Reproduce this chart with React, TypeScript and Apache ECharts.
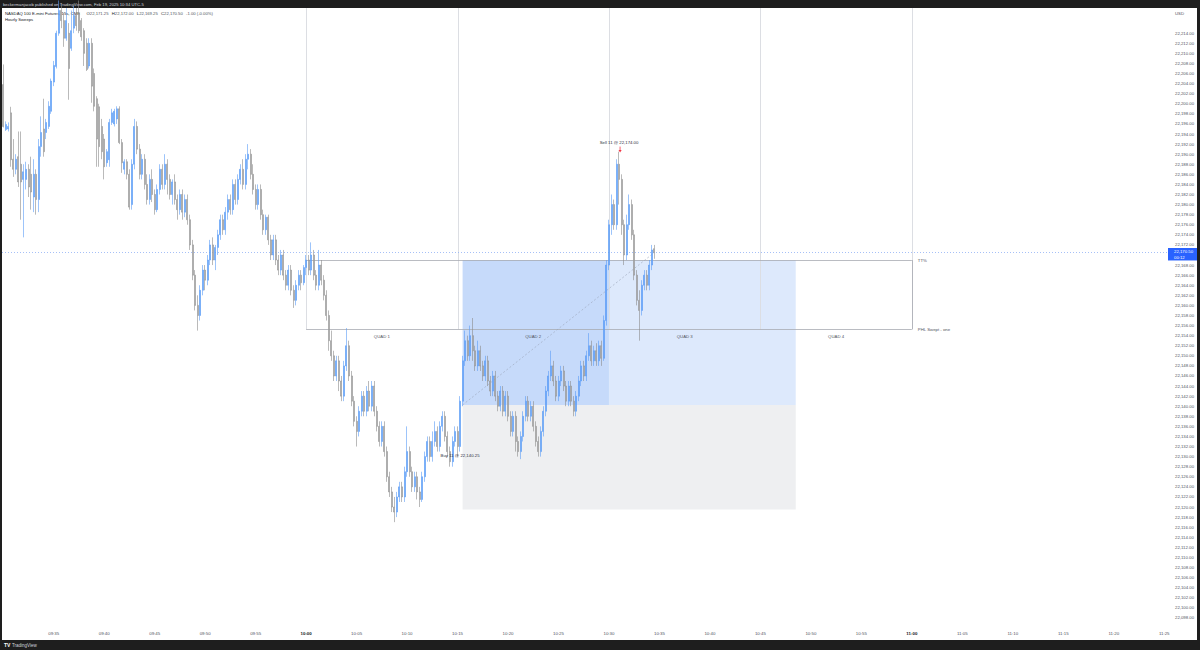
import React, { useEffect, useRef } from "react";
import * as echarts from "echarts";

// ---------- data ----------
const SLOT_SECONDS = 15;
const SESSION_START_MIN = 9 * 60 + 30; // 09:30:00
const SLOT_COUNT = 462; // 09:30:00 .. 11:25:15

// [open, close, low, high] — 15 second candles from 09:30:00
const candles: number[][] = [
  [22203.8, 22195.5, 22195.3, 22207.8], [22194.9, 22195.9, 22194.6, 22196.5], [22195.0, 22195.5, 22194.5, 22196.3],
  [22198.2, 22188.9, 22187.5, 22199.4], [22189, 22187, 22185.5, 22193], [22187, 22189, 22186, 22190],
  [22189.5, 22184.5, 22183.5, 22194.5], [22188, 22184.5, 22177, 22194.5], [22185, 22186.5, 22173.5, 22188],
  [22185, 22187, 22183, 22188.5], [22187, 22183.5, 22181.5, 22188], [22186, 22182.5, 22179, 22189.5],
  [22181.5, 22186, 22178.5, 22189], [22186, 22181, 22178, 22187], [22181, 22191.5, 22178.5, 22193],
  [22191.5, 22194.3, 22189.5, 22197.5], [22195, 22190.5, 22189.5, 22201], [22194.3, 22196.3, 22193, 22197],
  [22195.5, 22199.5, 22195, 22200.5], [22198.5, 22204.5, 22198, 22205], [22204.3, 22207.6, 22203.5, 22208.5],
  [22207.4, 22214, 22207, 22214.5], [22214, 22218.5, 22213.5, 22220.5], [22218.5, 22216.5, 22215, 22220],
  [22216.5, 22213, 22211.3, 22218], [22213, 22216.5, 22212.5, 22219], [22214, 22207, 22200.8, 22216],
  [22211, 22214.5, 22210.5, 22218.5], [22215, 22217.5, 22214, 22219.5], [22217.5, 22215.5, 22214.5, 22219],
  [22218, 22214.5, 22214, 22220.5], [22216.5, 22213.3, 22212.5, 22217], [22214.5, 22210, 22207.5, 22215],
  [22212, 22206.8, 22206.5, 22213], [22207.5, 22212, 22207, 22213], [22212, 22203.5, 22200.2, 22213],
  [22206, 22199.5, 22198.5, 22207], [22201, 22193, 22187.5, 22201.5], [22199.4, 22191.5, 22187.5, 22200],
  [22195.5, 22190.5, 22189, 22197], [22193, 22187.5, 22185, 22194], [22188.3, 22190.5, 22187.5, 22191],
  [22188.9, 22196.3, 22187.5, 22197], [22196.3, 22198.2, 22195.8, 22199], [22196, 22198.5, 22195.5, 22199],
  [22197, 22199, 22196, 22199.5], [22199, 22192.3, 22192, 22199.5], [22192.3, 22188.3, 22186.3, 22193],
  [22187, 22188.5, 22186, 22189], [22188.5, 22186, 22185, 22189], [22186, 22179.5, 22179, 22187],
  [22180, 22188, 22179, 22189], [22188, 22195.5, 22187, 22197], [22195.5, 22191, 22190, 22196.5],
  [22191, 22186, 22185, 22192], [22186, 22189, 22185, 22190], [22189, 22184, 22183, 22190],
  [22184, 22181, 22180, 22186], [22181, 22185, 22180, 22186], [22185, 22182, 22180.5, 22187],
  [22182, 22179, 22178, 22183], [22179, 22183, 22178.5, 22184], [22183, 22187, 22182, 22188],
  [22187, 22184, 22183, 22188], [22184, 22188, 22183, 22190], [22188, 22185, 22182, 22189],
  [22185, 22182, 22181, 22186], [22182, 22184.5, 22180, 22185], [22184.5, 22181, 22180, 22186],
  [22181, 22179, 22177, 22182], [22179, 22182, 22178, 22183], [22182, 22178.5, 22177, 22183],
  [22178.5, 22181, 22177.5, 22182], [22181, 22177, 22176, 22182], [22177, 22172, 22171, 22178],
  [22172, 22166, 22165, 22173], [22166, 22160, 22159, 22167], [22160, 22158, 22155, 22162],
  [22158, 22163, 22157, 22164], [22163, 22167, 22162, 22168], [22167, 22165, 22163, 22168],
  [22165, 22169, 22164, 22170], [22169, 22172, 22168, 22173], [22172, 22169, 22168, 22173.5],
  [22169, 22171.5, 22167, 22172], [22171.5, 22174, 22170, 22175], [22174, 22177, 22173, 22178],
  [22177, 22175, 22174, 22178], [22175, 22178.5, 22174, 22179.5], [22178.5, 22181, 22177, 22182],
  [22181, 22179, 22178, 22182], [22179, 22184, 22178, 22185], [22184, 22181, 22180, 22185],
  [22181, 22185, 22180, 22186], [22185, 22187, 22184, 22188], [22187, 22184, 22183, 22189],
  [22184, 22189, 22183, 22190], [22189, 22190, 22187, 22192], [22190, 22186, 22185, 22191],
  [22186, 22183, 22182, 22188], [22183, 22180, 22179, 22184], [22180, 22183, 22179, 22184],
  [22183, 22178, 22177, 22184], [22178, 22175, 22174, 22179], [22175, 22177.5, 22174, 22178],
  [22177.5, 22173, 22172, 22178], [22173, 22170, 22169, 22174], [22170, 22173, 22169, 22174],
  [22173, 22169, 22168, 22174], [22169, 22167, 22166, 22170], [22167, 22170, 22166, 22171],
  [22170, 22166, 22165, 22171], [22166, 22164, 22163, 22167], [22164, 22167, 22163, 22168],
  [22167, 22163, 22162, 22168], [22163, 22161, 22159.5, 22164], [22161, 22164, 22160, 22165],
  [22164, 22166, 22163, 22167], [22166, 22164.5, 22163, 22167], [22164.5, 22167.5, 22164, 22168],
  [22167.5, 22169, 22166, 22170], [22169, 22167, 22166, 22170], [22167, 22170, 22166, 22172.5],
  [22170, 22166, 22165, 22171], [22166, 22164, 22163, 22167], [22164, 22168, 22163, 22171],
  [22168, 22165, 22164, 22169], [22165, 22162, 22161, 22166], [22162, 22158, 22157, 22163],
  [22158, 22153, 22151, 22159], [22153, 22150, 22149, 22155], [22150, 22146, 22145, 22151],
  [22146, 22149, 22145, 22150], [22149, 22145, 22143, 22150], [22145, 22142, 22141, 22146],
  [22142, 22148, 22141, 22149], [22148, 22152, 22147, 22155.5], [22152, 22146, 22145, 22153],
  [22146, 22141, 22140, 22147], [22141, 22137, 22136, 22142], [22137, 22135, 22132, 22138],
  [22135, 22139, 22134, 22140], [22139, 22142, 22138, 22143], [22142, 22139, 22138, 22143],
  [22139, 22143, 22138, 22144], [22143, 22140, 22139, 22145], [22140, 22144, 22139, 22145],
  [22144, 22139, 22138, 22145], [22139, 22136, 22135, 22140], [22136, 22133, 22132, 22137],
  [22133, 22136, 22132, 22137], [22136, 22131, 22130, 22137], [22131, 22126, 22125, 22132],
  [22126, 22123, 22122, 22127], [22123, 22120, 22119, 22124], [22120, 22119, 22117, 22122],
  [22119, 22122, 22118, 22123], [22122, 22124, 22121, 22125], [22124, 22122, 22121, 22125],
  [22122, 22127, 22121, 22128], [22127, 22131, 22126, 22136], [22131, 22127, 22126, 22132],
  [22127, 22124, 22123, 22128], [22124, 22126, 22123, 22127], [22126, 22123, 22121.5, 22127],
  [22123, 22121.5, 22120, 22124], [22121.5, 22126, 22121, 22127], [22126, 22130, 22125, 22131],
  [22130, 22133, 22129, 22134], [22133, 22130, 22129, 22134], [22130, 22133, 22129, 22135],
  [22133, 22135, 22132, 22137], [22135, 22132, 22131, 22136], [22132, 22136, 22131, 22137],
  [22136, 22138, 22135, 22139], [22138, 22134, 22133, 22139], [22134, 22131, 22130, 22135],
  [22131, 22129, 22128, 22132], [22129, 22133, 22128, 22134], [22133, 22135, 22132, 22136],
  [22135, 22132, 22130, 22136], [22132, 22141, 22131, 22142], [22141, 22149, 22140, 22150],
  [22149, 22153, 22148, 22155], [22153, 22150, 22149, 22154], [22150, 22154, 22149, 22156],
  [22154, 22151, 22149, 22157.5], [22151, 22148, 22147, 22152], [22148, 22151, 22147, 22153],
  [22151, 22148, 22147, 22152], [22148, 22146, 22145, 22149], [22146, 22149, 22145, 22150],
  [22149, 22145, 22144, 22150], [22145, 22143, 22142, 22146], [22143, 22146, 22142, 22147],
  [22146, 22142, 22141, 22147], [22142, 22140, 22139, 22143], [22140, 22143, 22139, 22144],
  [22143, 22139, 22138, 22144], [22139, 22142, 22138, 22143], [22142, 22138, 22137, 22143],
  [22138, 22135, 22134, 22139], [22135, 22138, 22134, 22139], [22138, 22133, 22131, 22139],
  [22133, 22131, 22130, 22134], [22131, 22134, 22129.5, 22135], [22134, 22138, 22133, 22139],
  [22138, 22141, 22137, 22142], [22141, 22138, 22137, 22142], [22138, 22140, 22137, 22141],
  [22140, 22136, 22135, 22141], [22136, 22133, 22132, 22137], [22133, 22131, 22130, 22134],
  [22131, 22135, 22130, 22136], [22135, 22139, 22134, 22140], [22139, 22143, 22138, 22144],
  [22143, 22146, 22142, 22147], [22146, 22148, 22145, 22151], [22148, 22145, 22144, 22149],
  [22145, 22142, 22141, 22146], [22142, 22145, 22141, 22146], [22145, 22147, 22144, 22148],
  [22147, 22144, 22143, 22148], [22144, 22141, 22140, 22145], [22141, 22144, 22140, 22145],
  [22144, 22141, 22140, 22145], [22141, 22139, 22138, 22142], [22139, 22142, 22138, 22143],
  [22142, 22145, 22141, 22146], [22145, 22148, 22144, 22149], [22148, 22146, 22145, 22149],
  [22146, 22150, 22145, 22151], [22150, 22152, 22149, 22154.5], [22152, 22149, 22148, 22153],
  [22149, 22151, 22148, 22152], [22151, 22149, 22148, 22152.5], [22149, 22152, 22148, 22153],
  [22152, 22149.5, 22148, 22153], [22149.5, 22157, 22149, 22158], [22157, 22168, 22156, 22169],
  [22168, 22176, 22167, 22177], [22176, 22180, 22174, 22182], [22180, 22176, 22175, 22181],
  [22176, 22188, 22175, 22189], [22188, 22185, 22180, 22190.5], [22185, 22176, 22174, 22186],
  [22176, 22170, 22168, 22177], [22170, 22176, 22169, 22178], [22176, 22180, 22175, 22182],
  [22180, 22174, 22173, 22181], [22174, 22166, 22165, 22175], [22166, 22161, 22160, 22167],
  [22161, 22159, 22153, 22163], [22159, 22164, 22158, 22165], [22164, 22166, 22163, 22167],
  [22166, 22164, 22163, 22167], [22164, 22168, 22163, 22169], [22168, 22171, 22167, 22172],
  [22171.25, 22170.5, 22169.25, 22172],
];

const axisMin = 22096;
const axisMax = 22219;
const axisStep = 2;
const axisTopLabel = 22214;

const timeLabelEverySlots = 20; // 5 minutes
const boldTimes = ["10:00", "11:00"];

const quarterLines = ["10:00", "10:15", "10:30", "10:45", "11:00"];
const quadNames = ["QUAD 1", "QUAD 2", "QUAD 3", "QUAD 4"];
const quadCenters = ["10:07:30", "10:22:30", "10:37:30", "10:52:30"];

const levelNames = ["TT%", "PHL Swept - one"];
const levelPrices = [22169, 22155.25];
const levelStart = "10:00";
const levelEnd = "11:00";

const positionEntryTime = "10:15:30";
const positionSplitTime = "10:30:00";
const positionEndTime = "10:48:30";
const positionEntry = 22140.25;
const positionTarget = 22169;
const positionStop = 22119.5;

const lastPrice = 22170.5;
const lastCountdown = "00:12";

const buyText = "Buy 11 @ 22,140.25";
const buyTime = "10:15:15";
const buyLabelPrice = 22130.25;
const sellText = "Sell 11 @ 22,174.00";
const sellTime = "10:31:00";
const sellLabelPrice = 22192.3;

const headerText = "beckermanjacob published on TradingView.com, Feb 19, 2025 10:34 UTC-5";
const symbolText = "NASDAQ 100 E-mini Futures, 15s, CME";
const ohlcLabels = ["O", "H", "L", "C"];
const ohlcValues = ["22,171.25", "22,172.00", "22,169.25", "22,170.50"];
const changeText = "-1.00 (-0.00%)";
const studyName = "Hourly Sweeps";

// ---------- helpers ----------
const FONT = "'Liberation Sans', Arial, sans-serif";

function slotOf(t: string): number {
  const [h, m, s] = t.split(":").map(Number);
  return (h * 60 + m - SESSION_START_MIN) * (60 / SLOT_SECONDS) + (s || 0) / SLOT_SECONDS;
}
function pad(n: number) {
  return n < 10 ? "0" + n : "" + n;
}
const categories: string[] = [];
for (let k = 0; k < SLOT_COUNT; k++) {
  const sec = SESSION_START_MIN * 60 + k * SLOT_SECONDS;
  categories.push(`${pad(Math.floor(sec / 3600))}:${pad(Math.floor(sec / 60) % 60)}:${pad(sec % 60)}`);
}
function fmtPrice(v: number) {
  return v.toLocaleString("en-US", { minimumFractionDigits: 2, maximumFractionDigits: 2 });
}

function bgRender(params: any, api: any) {
  const cs = params.coordSys;
  const P = (t: string | number, p: number) => api.coord([typeof t === "string" ? slotOf(t) : t, p]);
  const ch: any[] = [];
  const rect = (t1: string, t2: string, p1: number, p2: number, fill: string) => {
    const a = P(t1, p1);
    const b = P(t2, p2);
    ch.push({
      type: "rect",
      shape: { x: Math.min(a[0], b[0]), y: Math.min(a[1], b[1]), width: Math.abs(b[0] - a[0]), height: Math.abs(b[1] - a[1]) },
      style: { fill },
    });
  };
  rect(positionEntryTime, positionSplitTime, positionTarget, positionEntry, "#c6dafa");
  rect(positionSplitTime, positionEndTime, positionTarget, positionEntry, "#dde9fc");
  rect(positionEntryTime, positionEndTime, positionEntry, positionStop, "#eeeff1");

  // quarter-hour vertical lines: from the chart top down to the lower level
  for (const t of quarterLines) {
    const a = P(t, levelPrices[1]);
    const x = Math.round(a[0]) + 0.5;
    ch.push({ type: "line", shape: { x1: x, y1: cs.y, x2: x, y2: a[1] }, style: { stroke: "#dcdee3", lineWidth: 1 } });
  }
  // level lines
  levelPrices.forEach((p) => {
    const a = P(levelStart, p);
    const b = P(levelEnd, p);
    const y = Math.round(a[1]) + 0.5;
    ch.push({ type: "line", shape: { x1: a[0], y1: y, x2: b[0], y2: y }, style: { stroke: "#a8abb3", lineWidth: 0.8 } });
  });
  {
    const a = P(levelEnd, levelPrices[0]);
    const b = P(levelEnd, levelPrices[1]);
    const x = Math.round(a[0]) + 0.5;
    ch.push({ type: "line", shape: { x1: x, y1: a[1], x2: x, y2: b[1] }, style: { stroke: "#a8abb3", lineWidth: 0.8 } });
  }
  // entry -> last close dashed line
  {
    const a = P(positionEntryTime, positionEntry);
    const b = P(candles.length - 1, lastPrice);
    ch.push({ type: "line", shape: { x1: a[0], y1: a[1], x2: b[0], y2: b[1] }, style: { stroke: "#9aa4b8", lineWidth: 0.6, lineDash: [2, 2] } });
  }
  // last price dotted line
  {
    const y = Math.round(P(0, lastPrice)[1]) + 0.5;
    ch.push({ type: "line", shape: { x1: cs.x, y1: y, x2: cs.x + cs.width, y2: y }, style: { stroke: "#8fb0f5", lineWidth: 0.8, lineDash: [1, 2] } });
  }
  return { type: "group", children: ch };
}

function fgRender(params: any, api: any) {
  const cs = params.coordSys;
  const P = (t: string | number, p: number) => api.coord([typeof t === "string" ? slotOf(t) : t, p]);
  const ch: any[] = [];
  const txt = (text: string, x: number, y: number, align: string, fill = "#50535e", size = 4.3) =>
    ch.push({ type: "text", style: { text, x, y, align, verticalAlign: "middle", fill, fontSize: size, fontFamily: FONT } });

  levelNames.forEach((n, i) => {
    const a = P(levelEnd, levelPrices[i]);
    txt(n, a[0] + 6, a[1], "left");
  });
  quadNames.forEach((n, i) => {
    const a = P(quadCenters[i], levelPrices[1]);
    txt(n, a[0], a[1] + 7, "center");
  });
  // buy label
  {
    const a = P(buyTime, buyLabelPrice);
    txt(buyText, a[0], a[1], "center", "#2a2e39");
  }
  // sell label + arrow
  {
    const a = P(sellTime, sellLabelPrice);
    txt(sellText, a[0], a[1], "center", "#2a2e39");
    const x = a[0] + 1;
    ch.push({ type: "line", shape: { x1: x, y1: a[1] + 4, x2: x, y2: a[1] + 8 }, style: { stroke: "#f23645", lineWidth: 0.8 } });
    ch.push({ type: "polygon", shape: { points: [[x - 1.6, a[1] + 7.5], [x + 1.6, a[1] + 7.5], [x, a[1] + 10]] }, style: { fill: "#f23645" } });
  }
  // last price axis tag
  {
    const y = P(0, lastPrice)[1];
    const x0 = cs.x + cs.width;
    ch.push({ type: "rect", shape: { x: x0, y: y - 4.5, width: 29, height: 12.5 }, style: { fill: "#2962ff" } });
    txt(fmtPrice(lastPrice), x0 + 6, y - 0.8, "left", "#ffffff");
    txt(lastCountdown, x0 + 6, y + 4.8, "left", "#ffffff");
  }
  return { type: "group", children: ch };
}

const option: any = {
  animation: false,
  backgroundColor: "#1e1e1e",
  textStyle: { fontFamily: FONT },
  grid: { left: 2, right: 32, top: 8, bottom: 22, containLabel: false },
  xAxis: [
    {
      type: "category",
      data: categories,
      boundaryGap: true,
      axisLine: { show: false },
      axisTick: { show: false },
      splitLine: { show: false },
      axisLabel: {
        interval: (i: number) => i > 0 && i % timeLabelEverySlots === 0,
        formatter: (v: string) => {
          const hm = v.slice(0, 5);
          return boldTimes.includes(hm) ? `{b|${hm}}` : hm;
        },
        fontSize: 4.4,
        color: "#50535e",
        margin: 3,
        fontFamily: FONT,
        rich: { b: { fontSize: 4.4, fontWeight: "bold", color: "#131722", fontFamily: FONT } },
      },
    },
    { type: "value", min: -0.5, max: SLOT_COUNT - 0.5, show: false },
  ],
  yAxis: {
    type: "value",
    position: "right",
    min: axisMin,
    max: axisMax,
    interval: axisStep,
    axisLine: { show: false },
    axisTick: { show: false },
    splitLine: { show: false },
    axisLabel: {
      showMinLabel: false,
      showMaxLabel: false,
      formatter: (v: number) => (v > axisTopLabel || Math.abs(v - lastPrice) < 1.5 ? "" : fmtPrice(v)),
      fontSize: 4.3,
      color: "#50535e",
      margin: 7,
      fontFamily: FONT,
    },
  },
  series: [
    { type: "custom", xAxisIndex: 1, data: [[0, 22150]], renderItem: bgRender, z: 1, silent: true },
    {
      type: "candlestick",
      data: candles,
      barWidth: 1.5,
      z: 2,
      itemStyle: { color: "#5b9cf6", color0: "#c4c4c4", borderColor: "#5b9cf6", borderColor0: "#8c8c8c", borderWidth: 0.6 },
    },
    { type: "custom", xAxisIndex: 1, data: [[0, 22150]], renderItem: fgRender, z: 3, silent: true },
  ],
  graphic: [
    { type: "rect", z: -10, shape: { x: 2, y: 8, width: 1195, height: 632 }, style: { fill: "#ffffff" } },
    { type: "text", z: 1, x: 3, y: 4, style: { text: headerText, fill: "#d1d4dc", fontSize: 4.2, fontFamily: FONT, verticalAlign: "middle" } },
    {
      type: "text",
      z: 1,
      x: 5,
      y: 13,
      style: {
        text:
          `{n|${symbolText}}  ` +
          ohlcLabels.map((l, i) => `{l|${l}}{v|${ohlcValues[i]}}`).join(" ") +
          ` {v|${changeText}}`,
        verticalAlign: "middle",
        fontFamily: FONT,
        rich: {
          n: { fill: "#131722", fontSize: 4.2, fontFamily: FONT },
          l: { fill: "#131722", fontSize: 4.2, fontFamily: FONT },
          v: { fill: "#50535e", fontSize: 4.2, fontFamily: FONT },
        },
      },
    },
    { type: "text", z: 1, x: 5, y: 19.5, style: { text: studyName, fill: "#131722", fontSize: 4.2, fontFamily: FONT, verticalAlign: "middle" } },
    { type: "text", z: 1, x: 1175, y: 13, style: { text: "USD", fill: "#50535e", fontSize: 4.3, fontFamily: FONT, verticalAlign: "middle" } },
    { type: "text", z: 1, x: 4, y: 645, style: { text: "TV", fill: "#ffffff", fontSize: 5, fontWeight: "bold", fontFamily: FONT, verticalAlign: "middle" } },
    { type: "text", z: 1, x: 12, y: 645, style: { text: "TradingView", fill: "#d1d4dc", fontSize: 4.5, fontFamily: FONT, verticalAlign: "middle" } },
  ],
};

export default function App() {
  const ref = useRef<HTMLDivElement>(null);
  useEffect(() => {
    const chart = echarts.init(ref.current!, null, { renderer: "svg" });
    chart.setOption(option);
    return () => chart.dispose();
  }, []);
  return <div ref={ref} style={{ position: "fixed", left: 0, top: 0, width: 1200, height: 650 }} />;
}
